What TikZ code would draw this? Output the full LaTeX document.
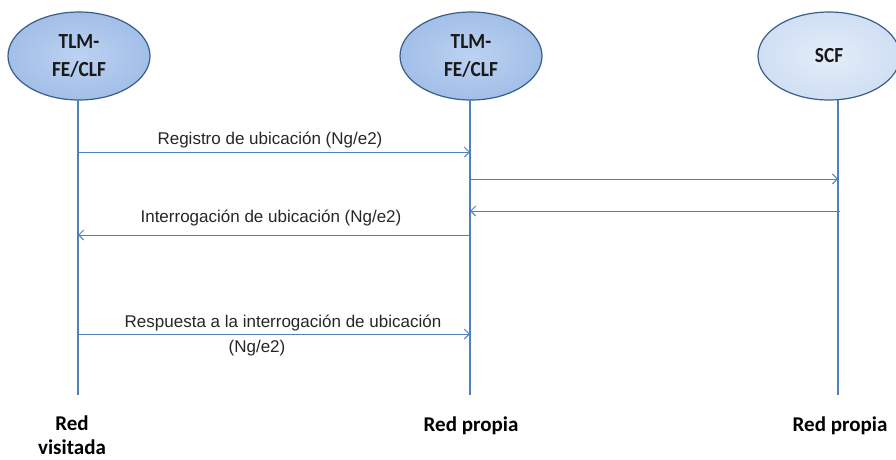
\documentclass[tikz,border=0pt]{standalone}
\usepackage{fontspec}
\setmainfont{Liberation Sans}
\newfontfamily\carlitofont{Carlito}
\newfontfamily\carlitonarrow[FakeStretch=0.9]{Carlito}
\usetikzlibrary{arrows.meta,shapes.geometric}
\definecolor{lineblue}{HTML}{4F81BD}
\definecolor{edgeblue}{HTML}{3A5D8C}
\definecolor{fillA}{HTML}{A2BFE8}
\definecolor{fillAin}{HTML}{BCD2F1}
\definecolor{fillB}{HTML}{D0DFF4}
\definecolor{fillBin}{HTML}{E4EDF9}
\tikzset{
  ent/.style={ellipse, draw=edgeblue, line width=1.2pt, minimum width=142pt, minimum height=88pt,
    inner color=fillAin, outer color=fillA, font=\carlitonarrow\bfseries\fontsize{21.5}{28}\selectfont, align=center, text=black!90},
  entB/.style={ent, inner color=fillBin, outer color=fillB},
  life/.style={draw=lineblue, line width=1.8pt},
  msg/.style={draw=lineblue, line width=0.9pt, -{Straight Barb[length=5pt,width=10pt]}},
  lbl/.style={font=\fontsize{17}{20}\selectfont, text=black!85, inner sep=0pt},
  foot/.style={font=\carlitofont\bfseries\fontsize{21}{24}\selectfont, align=center, inner sep=0pt}
}
\begin{document}
\begin{tikzpicture}[x=1pt,y=-1pt]
\useasboundingbox (0,0) rectangle (896,459);
\node[ent] (A) at (79,56) {TLM-\\FE/CLF};
\node[ent] (B) at (471,56) {TLM-\\FE/CLF};
\node[entB] (C) at (829,56) {SCF};
\coordinate (Ab) at (78,395);
\coordinate (Bb) at (470,395);
\coordinate (Cb) at (838,395);
\draw[life] (78,100) -- (Ab);
\draw[life] (470,100) -- (Bb);
\draw[life] (838,100) -- (Cb);
% messages
\coordinate (a1) at (78,152); \coordinate (b1) at (470,152);
\coordinate (b2) at (470,179); \coordinate (c2) at (838,179);
\coordinate (c3) at (840,211); \coordinate (b3) at (470,211);
\coordinate (b4) at (470,235); \coordinate (a4) at (78,235);
\coordinate (a5) at (78,334); \coordinate (b5) at (470,334);
\draw[msg] (a1) -- (b1);
\draw[msg] (b2) -- (c2);
\draw[msg] (c3) -- (b3);
\draw[msg] (b4) -- (a4);
\draw[msg] (a5) -- (b5);
\node[lbl] (l1) at (270,140) {Registro de ubicación (Ng/e2)};
\node[lbl] (l4) at (271,218) {Interrogación de ubicación (Ng/e2)};
\node[lbl] (l5) at (283,323) {Respuesta a la interrogación de ubicación};
\node[lbl] (l5b) at (257,348) {(Ng/e2)};
\node[foot] (f1) at (72,435) {Red\\visitada};
\node[foot] (f2) at (471,426) {Red propia};
\node[foot] (f3) at (840,426) {Red propia};
\end{tikzpicture}
\end{document}
